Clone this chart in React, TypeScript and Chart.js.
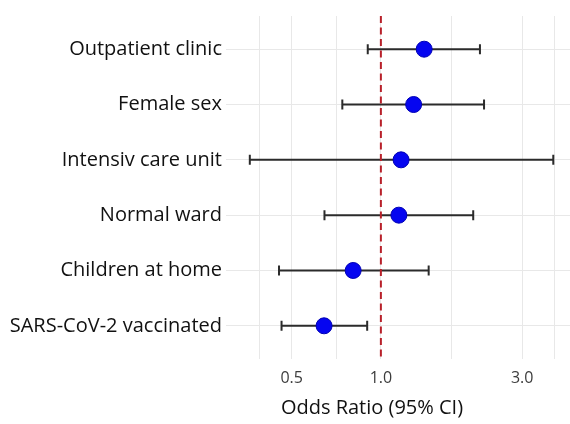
import { useEffect, useRef } from "react";
import { Chart, registerables } from "chart.js";

Chart.register(...registerables);

// Predictors, top to bottom
const factors = [
  "Outpatient clinic",
  "Female sex",
  "Intensiv care unit",
  "Normal ward",
  "Children at home",
  "SARS-CoV-2 vaccinated",
];

// Odds ratios with 95% confidence limits
const oddsRatios = [1.4, 1.29, 1.17, 1.15, 0.806, 0.643];
const lowerCI = [0.903, 0.741, 0.361, 0.645, 0.453, 0.462];
const upperCI = [2.16, 2.23, 3.82, 2.05, 1.45, 0.899];

// Log-scaled x axis: labelled breaks and the unlabelled minor breaks
const majorBreaks = [0.5, 1.0, 3.0];
const majorLabels = ["0.5", "1.0", "3.0"];
const minorBreaks = [0.39, 0.707, 1.732, 3.87];
const xLimits = [0.321, 4.35];

const nullValue = 1;
const xTitle = "Odds Ratio (95% CI)";

const FONT = "'Open Sans', 'DejaVu Sans', sans-serif";

const forestPlugin = {
  id: "forest",
  beforeDatasetsDraw(chart: any) {
    const { ctx, chartArea, scales } = chart;
    const xs = scales.x;
    const ys = scales.y;
    ctx.save();
    // confidence interval whiskers
    ctx.strokeStyle = "#2b2b2b";
    ctx.lineWidth = 2;
    const cap = 5;
    factors.forEach((_, i) => {
      const y = ys.getPixelForValue(i);
      const x0 = xs.getPixelForValue(lowerCI[i]);
      const x1 = xs.getPixelForValue(upperCI[i]);
      ctx.beginPath();
      ctx.moveTo(x0, y);
      ctx.lineTo(x1, y);
      ctx.moveTo(x0, y - cap);
      ctx.lineTo(x0, y + cap);
      ctx.moveTo(x1, y - cap);
      ctx.lineTo(x1, y + cap);
      ctx.stroke();
    });
    // line of no effect
    const xr = xs.getPixelForValue(nullValue);
    ctx.strokeStyle = "#b8202a";
    ctx.lineWidth = 2;
    ctx.setLineDash([7, 4.5]);
    ctx.beginPath();
    ctx.moveTo(xr, chartArea.top);
    ctx.lineTo(xr, chartArea.bottom);
    ctx.stroke();
    ctx.restore();
  },
  afterDraw(chart: any) {
    const { ctx } = chart;
    ctx.save();
    ctx.fillStyle = "#111111";
    ctx.font = `20px ${FONT}`;
    ctx.textAlign = "center";
    ctx.textBaseline = "middle";
    ctx.fillText(xTitle, 372, 408);
    ctx.restore();
  },
};

export default function App() {
  const canvasRef = useRef<HTMLCanvasElement | null>(null);

  useEffect(() => {
    const canvas = canvasRef.current;
    if (!canvas) return;
    const chart = new Chart(canvas, {
      type: "scatter",
      data: {
        datasets: [
          {
            data: factors.map((_, i) => ({ x: oddsRatios[i], y: i })),
            pointRadius: 8,
            pointHoverRadius: 8,
            backgroundColor: "#0505f0",
            borderColor: "#0000b4",
            borderWidth: 1,
          },
        ],
      },
      options: {
        animation: false,
        responsive: false,
        maintainAspectRatio: false,
        layout: { autoPadding: false, padding: { top: 16, right: 0, left: 0, bottom: 0 } },
        plugins: {
          legend: { display: false },
          tooltip: { enabled: false },
        },
        scales: {
          x: {
            type: "logarithmic",
            min: xLimits[0],
            max: xLimits[1],
            afterBuildTicks: (scale: any) => {
              const all = [...majorBreaks, ...minorBreaks].sort((a, b) => a - b);
              scale.ticks = all.map((v) => ({ value: v }));
            },
            afterFit: (scale: any) => {
              scale.height = 65;
              scale.paddingLeft = 0;
              scale.paddingRight = 0;
            },
            ticks: {
              autoSkip: false,
              maxRotation: 0,
              padding: 0,
              color: "#3c3c3c",
              font: { family: FONT, size: 16, lineHeight: 2.4 },
              callback: (v: any) => {
                const k = majorBreaks.indexOf(Number(v));
                return k >= 0 ? majorLabels[k] : "";
              },
            },
            grid: { color: "#e8e8e8", lineWidth: 1, drawTicks: false },
            border: { display: false },
          },
          y: {
            type: "linear",
            reverse: true,
            min: -0.6,
            max: factors.length - 1 + 0.6,
            afterBuildTicks: (scale: any) => {
              scale.ticks = factors.map((_, i) => ({ value: i }));
            },
            afterFit: (scale: any) => {
              scale.width = 226;
              scale.paddingTop = 0;
              scale.paddingBottom = 0;
            },
            ticks: {
              autoSkip: false,
              padding: 4,
              color: "#111111",
              font: { family: FONT, size: 20 },
              callback: (v: any) => factors[Number(v)] ?? "",
            },
            grid: { color: "#e8e8e8", lineWidth: 1, drawTicks: false },
            border: { display: false },
          },
        },
      },
      plugins: [forestPlugin],
    });
    return () => chart.destroy();
  }, []);

  return (
    <div style={{ position: "fixed", left: 0, top: 0, width: 570, height: 424, background: "#ffffff" }}>
      <canvas ref={canvasRef} width={570} height={424} />
    </div>
  );
}
